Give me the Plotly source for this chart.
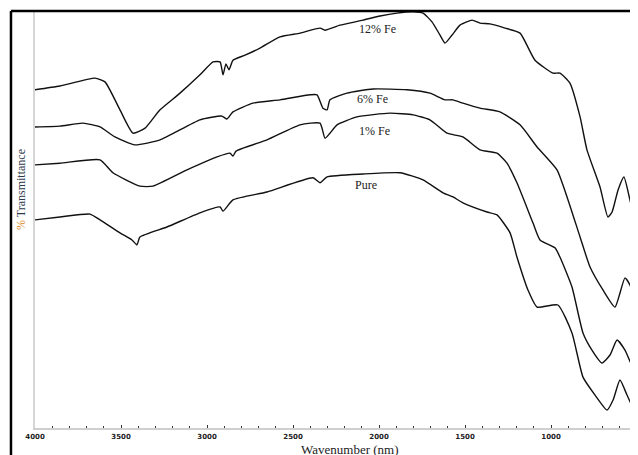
import plotly.graph_objects as go

# ---- data ----
wn_12 = [4000, 3855, 3651, 3593, 3506, 3430, 3360, 3273, 3157, 3041, 2965, 2924, 2907, 2890, 2872, 2849,
         2779, 2692, 2576, 2459, 2343, 2314, 2227, 2093, 1994, 1895, 1802, 1744, 1692, 1645, 1616, 1576,
         1529, 1459, 1413, 1355, 1267, 1180, 1093, 988, 948, 890, 831, 791, 715, 669, 645, 610, 576, 541, 500]
t_12 = [81.1, 82.0, 83.9, 83.0, 76.3, 70.7, 71.9, 76.3, 80.3, 84.7, 87.8, 87.8, 84.7, 87.3, 85.9, 88.2,
        89.4, 91.1, 93.8, 94.7, 95.9, 95.4, 96.6, 97.8, 98.8, 99.5, 99.8, 99.5, 97.4, 94.2, 92.3, 94.2,
        96.6, 97.8, 97.1, 96.9, 95.9, 94.7, 88.2, 85.1, 85.1, 82.7, 74.6, 66.7, 57.8, 50.6, 51.8, 57.1, 60.2, 54.7, 47.5]

wn_6 = [4000, 3855, 3721, 3622, 3535, 3419, 3273, 3041, 2913, 2884, 2849, 2733, 2576, 2401, 2360, 2326,
        2302, 2285, 2186, 2035, 1837, 1704, 1616, 1570, 1512, 1413, 1297, 1180, 1081, 965, 901, 831, 773,
        698, 628, 570, 541, 500]
t_6 = [72.2, 72.4, 73.1, 72.2, 69.8, 67.9, 69.1, 73.9, 74.8, 74.1, 75.8, 77.9, 78.7, 79.9, 79.9, 76.7,
       76.3, 78.7, 80.3, 81.3, 81.1, 80.3, 78.7, 78.7, 77.9, 76.7, 75.8, 72.7, 67.4, 61.9, 54.7, 45.8, 38.6,
       33.1, 29.0, 36.0, 34.3, 29.0]

wn_1 = [4000, 3855, 3622, 3547, 3390, 3314, 3116, 2942, 2866, 2849, 2831, 2651, 2459, 2343, 2314, 2285,
        2244, 2128, 1936, 1802, 1704, 1605, 1512, 1413, 1314, 1256, 1198, 1105, 1064, 977, 948, 878, 814,
        762, 704, 657, 616, 570, 523, 500]
t_1 = [63.1, 63.5, 64.3, 61.2, 58.0, 58.0, 61.9, 65.0, 65.9, 65.2, 66.4, 69.1, 72.7, 73.1, 69.5, 70.7,
       72.7, 74.6, 75.5, 75.1, 73.9, 70.7, 69.8, 66.7, 65.9, 63.5, 58.8, 49.2, 45.1, 43.2, 41.0, 33.8, 22.8,
       18.7, 15.6, 17.5, 21.1, 18.7, 14.4, 13.4]

wn_pure = [4000, 3855, 3680, 3622, 3506, 3436, 3407, 3390, 3233, 3041, 2924, 2907, 2849, 2651, 2384, 2343,
           2302, 2093, 1878, 1744, 1628, 1570, 1512, 1372, 1314, 1238, 1198, 1134, 1081, 960, 878, 814, 744,
           674, 639, 599, 558, 500]
t_pure = [49.9, 50.6, 51.3, 49.9, 46.8, 45.1, 43.9, 45.8, 48.2, 51.6, 53.0, 52.0, 54.7, 56.6, 60.0, 58.8,
          60.2, 60.9, 61.2, 59.5, 56.4, 55.4, 54.0, 51.8, 51.1, 46.8, 41.0, 33.1, 29.0, 29.5, 22.8, 12.2, 7.9,
          4.3, 6.7, 11.5, 7.9, 2.6]

series_names = ["12% Fe", "6% Fe", "1% Fe", "Pure"]
series_x = [wn_12, wn_6, wn_1, wn_pure]
series_y = [t_12, t_6, t_1, t_pure]

tick_vals = [4000, 3500, 3000, 2500, 2000, 1500, 1000, 500]
tick_text = [str(v) for v in tick_vals]

# label anchor positions (wavenumber, %T)
label_x = [2006, 2035, 2029, 2076]
label_y = [95.7, 78.9, 71.2, 58.3]

fig = go.Figure()
for name, xs, ys in zip(series_names, series_x, series_y):
    fig.add_trace(go.Scatter(x=xs, y=ys, mode="lines", name=name,
                             line=dict(color="#111111", width=1.4, shape="spline", smoothing=0.5),
                             showlegend=False))

for name, lx, ly in zip(series_names, label_x, label_y):
    fig.add_annotation(x=lx, y=ly, text=name, showarrow=False, xanchor="center", yanchor="middle",
                       font=dict(family="Liberation Serif", size=12, color="#222222"))

# axis titles
fig.add_annotation(xref="paper", yref="paper", x=0.523, y=-0.052, text="Wavenumber (nm)",
                   showarrow=False, xanchor="center", yanchor="middle",
                   font=dict(family="Liberation Serif", size=13, color="#222222"))
fig.add_annotation(xref="paper", yref="paper", x=-0.0233, y=0.573, textangle=-90,
                   text="<span style='color:#d9861e'>%</span> Transmittance",
                   showarrow=False, xanchor="center", yanchor="middle",
                   font=dict(family="Liberation Serif", size=12, color="#2f3a4a"))

# outer black frame (left and top edges visible)
fig.add_shape(type="line", xref="paper", yref="paper", x0=-0.0399, x1=1.1, y0=1.0, y1=1.0,
              line=dict(color="black", width=2.5))
fig.add_shape(type="line", xref="paper", yref="paper", x0=-0.0399, x1=-0.0399, y0=1.0, y1=-0.2,
              line=dict(color="black", width=2.5))

fig.update_layout(
    width=630, height=447,
    margin=dict(l=27, r=1, t=3, b=27),
    paper_bgcolor="white", plot_bgcolor="white",
    xaxis=dict(range=[4000, 500], tickvals=tick_vals, ticktext=tick_text,
               showgrid=False, zeroline=False, showline=True, linecolor="#cfcfcf", linewidth=2,
               ticks="inside", ticklen=3, tickcolor="#333333", tickwidth=1,
               minor=dict(dtick=100, ticks="inside", ticklen=2, tickcolor="#333333", showgrid=False),
               tickfont=dict(family="DejaVu Sans", size=7, color="#222222", weight="bold"),
               ticklabelstandoff=1),
    yaxis=dict(range=[0, 100], showticklabels=False, showgrid=False, zeroline=False,
               showline=True, linecolor="#d6d6d6", linewidth=2, ticks=""),
)

fig.write_html("out.html")
